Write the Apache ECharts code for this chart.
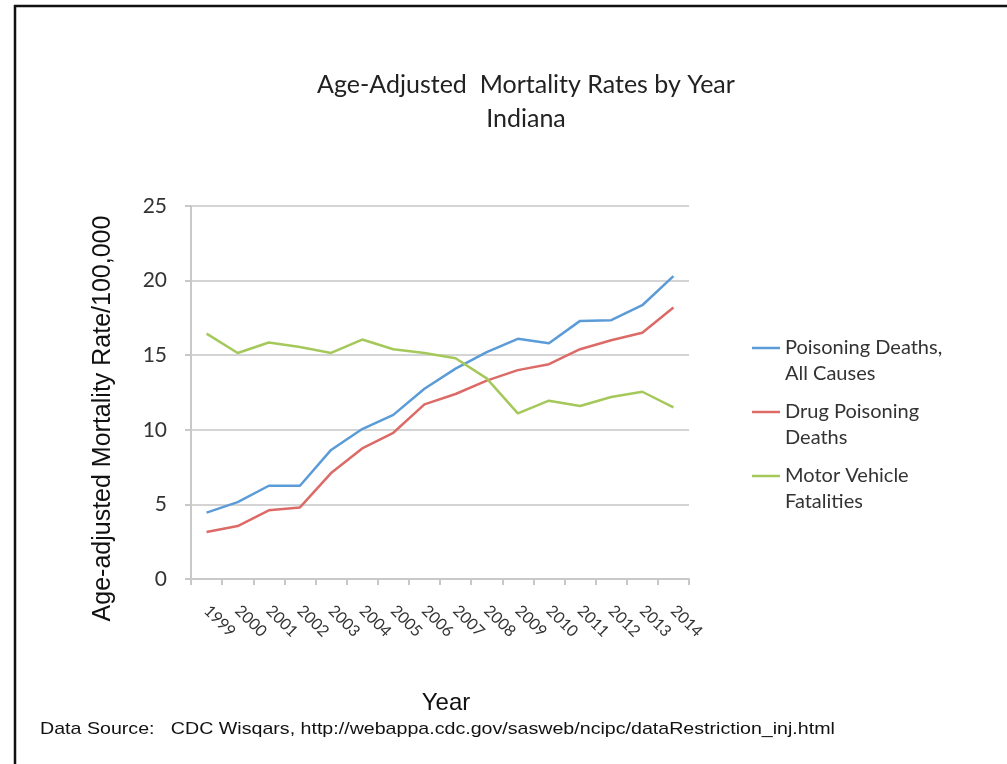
<!DOCTYPE html>
<html>
<head>
<meta charset="utf-8">
<script src="https://cdn.jsdelivr.net/npm/echarts@6/dist/echarts.min.js"></script>
<style>
html,body{margin:0;padding:0;background:#fff;}
#chart{width:1007px;height:764px;}
</style>
</head>
<body>
<div id="chart"></div>
<script>
var years = ['1999','2000','2001','2002','2003','2004','2005','2006','2007','2008','2009','2010','2011','2012','2013','2014'];
var poisoningAll = [4.45, 5.15, 6.25, 6.25, 8.65, 10.05, 11.0, 12.75, 14.1, 15.2, 16.1, 15.8, 17.3, 17.35, 18.35, 20.3];
var drugPoisoning = [3.15, 3.55, 4.6, 4.8, 7.1, 8.75, 9.8, 11.7, 12.4, 13.3, 14.0, 14.4, 15.4, 16.0, 16.5, 18.2];
var motorVehicle = [16.45, 15.15, 15.85, 15.55, 15.15, 16.05, 15.4, 15.15, 14.8, 13.45, 11.1, 11.95, 11.6, 12.2, 12.55, 11.5];
var yTicks = [0, 5, 10, 15, 20, 25];
var seriesNames = ['Poisoning Deaths,\nAll Causes', 'Drug Poisoning\nDeaths', 'Motor Vehicle\nFatalities'];

var chart = echarts.init(document.getElementById('chart'));
var legendFont = 'Lato, "Open Sans", sans-serif';
function mkLegend(name, top) {
  return {
    data: [name],
    orient: 'vertical',
    left: 747,
    top: top,
    icon: 'rect',
    itemWidth: 28,
    itemHeight: 2.5,
    itemGap: 0,
    selectedMode: false,
    formatter: function (n) { return '\n' + n; },
    textStyle: {
      fontFamily: legendFont,
      fontSize: 20,
      color: '#333333',
      lineHeight: 26
    }
  };
}
var option = {
  backgroundColor: '#ffffff',
  animation: false,
  title: {
    text: 'Age-Adjusted  Mortality Rates by Year\nIndiana',
    left: 521,
    textAlign: 'center',
    top: 63,
    textStyle: {
      fontFamily: legendFont,
      fontWeight: 'normal',
      fontSize: 25,
      color: '#222222',
      lineHeight: 34
    }
  },
  legend: [
    mkLegend(seriesNames[0], 304),
    mkLegend(seriesNames[1], 368),
    mkLegend(seriesNames[2], 432)
  ],
  grid: {
    left: 191,
    right: 318,
    top: 206,
    bottom: 185,
    containLabel: false
  },
  xAxis: {
    type: 'category',
    data: years,
    boundaryGap: true,
    name: 'Year',
    nameLocation: 'middle',
    nameGap: 112,
    nameTextStyle: {
      fontFamily: '"Liberation Sans", Arial, sans-serif',
      fontSize: 24,
      color: '#111111',
      padding: [0, 0, 0, 12]
    },
    axisLine: { show: true, lineStyle: { color: '#c8c8c8', width: 2 } },
    axisTick: { show: true, alignWithLabel: false, length: 6, lineStyle: { color: '#c8c8c8', width: 2 } },
    axisLabel: {
      rotate: -45,
      interval: 0,
      margin: 29,
      fontFamily: legendFont,
      fontSize: 16,
      color: '#333333'
    },
    splitLine: { show: false }
  },
  yAxis: {
    type: 'value',
    min: 0,
    max: 25,
    interval: 5,
    name: 'Age-adjusted Mortality Rate/100,000',
    nameLocation: 'middle',
    nameGap: 75,
    nameRotate: 90,
    nameTextStyle: {
      fontFamily: '"Liberation Sans", Arial, sans-serif',
      fontSize: 25,
      color: '#111111',
      padding: [0, 52, 0, 0]
    },
    axisLine: { show: true, lineStyle: { color: '#c8c8c8', width: 2 } },
    axisTick: { show: true, length: 6, inside: false, lineStyle: { color: '#c8c8c8', width: 2 } },
    axisLabel: {
      margin: 24,
      fontFamily: legendFont,
      fontSize: 21,
      color: '#333333',
      formatter: function (v) { return yTicks.indexOf(v) >= 0 ? String(v) : ''; }
    },
    splitLine: { show: true, lineStyle: { color: '#d4d4d4', width: 2 } }
  },
  series: [
    {
      name: seriesNames[0], type: 'line', data: poisoningAll, symbol: 'none',
      lineStyle: { color: '#5a9bd8', width: 2.5 }, itemStyle: { color: '#5a9bd8' }
    },
    {
      name: seriesNames[1], type: 'line', data: drugPoisoning, symbol: 'none',
      lineStyle: { color: '#dc6b68', width: 2.5 }, itemStyle: { color: '#dc6b68' }
    },
    {
      name: seriesNames[2], type: 'line', data: motorVehicle, symbol: 'none',
      lineStyle: { color: '#a5c85a', width: 2.5 }, itemStyle: { color: '#a5c85a' }
    }
  ],
  graphic: [
    { type: 'line', shape: { x1: 14, y1: 6, x2: 1007, y2: 6 }, style: { stroke: '#111111', lineWidth: 2.5 } },
    { type: 'line', shape: { x1: 15, y1: 5, x2: 15, y2: 764 }, style: { stroke: '#111111', lineWidth: 2.5 } },
    {
      type: 'text', x: 40, y: 721, scaleX: 1.154, scaleY: 1,
      style: {
        text: 'Data Source:   CDC Wisqars, http://webappa.cdc.gov/sasweb/ncipc/dataRestriction_inj.html',
        fontFamily: '"Liberation Sans", Arial, sans-serif',
        fontSize: 17,
        fill: '#111111'
      }
    }
  ]
};
chart.setOption(option);
</script>
</body>
</html>
